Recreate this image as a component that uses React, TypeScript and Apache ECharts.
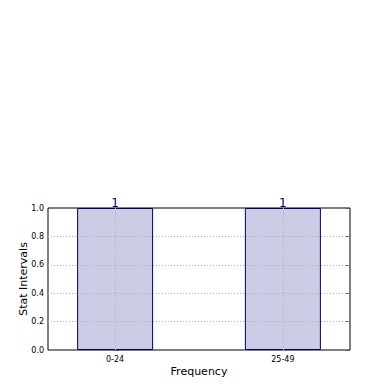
import React, { useEffect, useRef } from "react";
import * as echarts from "echarts";

const categories = ["0-24", "25-49"];
const positions = [0, 1];
const values = [1, 1];
const yTicks = [0.2, 0.4, 0.6, 0.8];

export default function App() {
  const ref = useRef<HTMLDivElement>(null);
  useEffect(() => {
    const chart = echarts.init(ref.current!, null, { renderer: "svg" });
    const font = "DejaVu Sans";
    const grid = { color: "#b0b0b0", type: [1, 2] as any, width: 1 };
    chart.setOption({
      animation: false,
      textStyle: { fontFamily: font },
      grid: {
        left: 48,
        right: 40,
        top: 208,
        bottom: 40,
        show: true,
        borderColor: "#000",
        borderWidth: 1,
        backgroundColor: "transparent",
      },
      xAxis: {
        type: "value",
        min: -0.4,
        max: 1.4,
        name: "Frequency",
        nameLocation: "middle",
        nameGap: 16,
        nameMoveOverlap: false,
        nameTextStyle: { fontSize: 11, color: "#000", fontFamily: font },
        axisLine: { show: false },
        axisTick: { show: true, inside: true, length: 4, customValues: positions, lineStyle: { color: "#555" } },
        axisLabel: {
          customValues: positions,
          fontSize: 8,
          color: "#000",
          margin: 5,
          formatter: (v: number) => categories[Math.round(v)] ?? "",
        },
        splitLine: { show: false },
      },
      yAxis: [
        {
          type: "value",
          min: 0,
          max: 1,
          interval: 0.2,
          name: "Stat Intervals",
          nameLocation: "middle",
          nameGap: 19,
          nameMoveOverlap: false,
          nameTextStyle: { fontSize: 11, color: "#000", fontFamily: font },
          axisLine: { show: false },
          axisTick: { show: true, inside: true, length: 4, lineStyle: { color: "#555" } },
          axisLabel: { fontSize: 8, color: "#000", margin: 4, formatter: (v: number) => v.toFixed(1) },
          splitLine: { show: false },
        },
        {
          type: "value",
          min: 0,
          max: 1,
          interval: 0.2,
          position: "right",
          axisLine: { show: false },
          axisTick: { show: true, inside: true, length: 4, lineStyle: { color: "#555" } },
          axisLabel: { show: false },
          splitLine: { show: false },
        },
      ],
      series: [
        {
          type: "bar",
          data: positions.map((p, i) => [p, values[i]]),
          barWidth: 76,
          itemStyle: { color: "#ccccE6", borderColor: "#000060", borderWidth: 1 },
          label: {
            show: true,
            position: "top",
            distance: -1,
            color: "#000060",
            fontSize: 12,
            fontFamily: font,
            formatter: (p: any) => String(p.value[1]),
          },
          markLine: {
            silent: true,
            symbol: "none",
            label: { show: false },
            lineStyle: grid,
            data: [
              ...yTicks.map((y) => ({ yAxis: y })),
              ...positions.map((x) => ({ xAxis: x })),
            ],
          },
        },
      ],
    });
    return () => chart.dispose();
  }, []);
  return <div ref={ref} style={{ width: 390, height: 390, position: "absolute", left: 0, top: 0 }} />;
}
